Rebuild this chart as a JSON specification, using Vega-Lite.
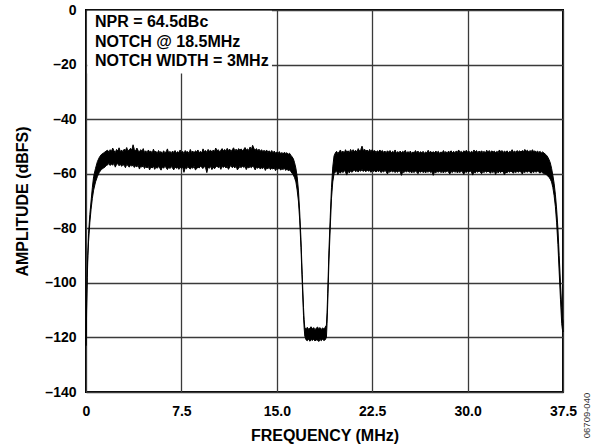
{
  "$schema": "https://vega.github.io/schema/vega-lite/v6.json",
  "autosize": "none",
  "width": 477,
  "height": 382,
  "padding": {"left": 86, "top": 10, "right": 42, "bottom": 54},
  "background": "white",
  "config": {
    "view": {"stroke": "black", "strokeWidth": 2},
    "font": "Liberation Sans",
    "axis": {
      "labelFont": "Liberation Sans", "labelFontWeight": "bold", "labelFontSize": 14, "labelColor": "black", "labelFlush": false,
      "titleFont": "Liberation Sans", "titleFontWeight": "bold", "titleFontSize": 16, "titleColor": "black",
      "gridColor": "#3a3a3a", "gridWidth": 1.3, "gridOpacity": 1, "domain": false, "ticks": false
    }
  },
  "data": {"values": [
    {"f":0.0,"hi":-121,"lo":-123},{"f":0.03,"hi":-113,"lo":-116},{"f":0.06,"hi":-104,"lo":-107},{"f":0.1,"hi":-95,"lo":-98},{"f":0.15,"hi":-88,"lo":-90},{"f":0.2,"hi":-82,"lo":-85},{"f":0.3,"hi":-75,"lo":-78},{"f":0.4,"hi":-70,"lo":-73},{"f":0.5,"hi":-65,"lo":-69},{"f":0.6,"hi":-61,"lo":-66},{"f":0.75,"hi":-58,"lo":-63},{"f":0.9,"hi":-55.5,"lo":-61},{"f":1.05,"hi":-54,"lo":-59.5},{"f":1.2,"hi":-53,"lo":-58.5},{"f":1.35,"hi":-52.5,"lo":-58},{"f":1.5,"hi":-52,"lo":-57.5},{"f":1.6,"hi":-51.6,"lo":-57},
    {"f":1.7,"hi":-51.4,"lo":-56.8},{"f":1.8,"hi":-52.1,"lo":-56.2},{"f":1.9,"hi":-51.2,"lo":-57.0},{"f":2.0,"hi":-51.8,"lo":-56.4},{"f":2.1,"hi":-50.6,"lo":-56.9},{"f":2.2,"hi":-51.6,"lo":-56.1},{"f":2.3,"hi":-52.3,"lo":-57.6},{"f":2.4,"hi":-51.1,"lo":-56.6},{"f":2.5,"hi":-51.7,"lo":-56.3},{"f":2.6,"hi":-50.5,"lo":-57.1},{"f":2.7,"hi":-51.9,"lo":-56.5},{"f":2.8,"hi":-51.3,"lo":-57.3},{"f":2.9,"hi":-52.0,"lo":-56.7},{"f":3.0,"hi":-51.0,"lo":-56.9},{"f":3.1,"hi":-51.5,"lo":-57.8},{"f":3.2,"hi":-50.4,"lo":-56.6},{"f":3.3,"hi":-51.8,"lo":-57.0},{"f":3.4,"hi":-51.2,"lo":-57.6},{"f":3.5,"hi":-50.7,"lo":-56.8},{"f":3.6,"hi":-51.4,"lo":-57.2},{"f":3.7,"hi":-49.4,"lo":-56.9},{"f":3.8,"hi":-51.1,"lo":-57.7},{"f":3.9,"hi":-51.7,"lo":-57.1},{"f":4.0,"hi":-50.6,"lo":-57.5},{"f":4.1,"hi":-51.5,"lo":-56.9},{"f":4.2,"hi":-52.0,"lo":-58.3},{"f":4.3,"hi":-51.2,"lo":-57.2},{"f":4.4,"hi":-51.8,"lo":-57.6},{"f":4.5,"hi":-50.8,"lo":-57.0},{"f":4.6,"hi":-52.2,"lo":-58.1},{"f":4.7,"hi":-51.6,"lo":-57.4},{"f":4.8,"hi":-52.4,"lo":-57.9},{"f":4.9,"hi":-51.3,"lo":-57.3},{"f":5.0,"hi":-52.0,"lo":-58.6},{"f":5.1,"hi":-51.7,"lo":-57.5},{"f":5.2,"hi":-52.5,"lo":-57.9},{"f":5.3,"hi":-51.0,"lo":-57.2},{"f":5.4,"hi":-52.1,"lo":-58.4},{"f":5.5,"hi":-51.8,"lo":-57.6},{"f":5.6,"hi":-52.6,"lo":-58.0},{"f":5.7,"hi":-51.5,"lo":-57.4},{"f":5.8,"hi":-52.2,"lo":-57.9},{"f":5.9,"hi":-51.9,"lo":-58.7},{"f":6.0,"hi":-52.7,"lo":-57.5},{"f":6.1,"hi":-51.6,"lo":-58.0},{"f":6.2,"hi":-52.3,"lo":-57.3},{"f":6.3,"hi":-52.0,"lo":-57.8},{"f":6.4,"hi":-50.9,"lo":-58.5},{"f":6.5,"hi":-52.4,"lo":-57.6},{"f":6.6,"hi":-51.8,"lo":-58.1},{"f":6.7,"hi":-52.6,"lo":-57.4},{"f":6.8,"hi":-51.7,"lo":-57.9},{"f":6.9,"hi":-52.2,"lo":-58.6},{"f":7.0,"hi":-51.5,"lo":-57.5},{"f":7.1,"hi":-52.5,"lo":-58.0},{"f":7.2,"hi":-51.9,"lo":-57.7},{"f":7.3,"hi":-52.3,"lo":-58.4},{"f":7.4,"hi":-51.3,"lo":-57.6},{"f":7.5,"hi":-52.4,"lo":-58.1},{"f":7.6,"hi":-51.8,"lo":-57.5},{"f":7.7,"hi":-52.7,"lo":-59.5},{"f":7.8,"hi":-51.5,"lo":-57.8},{"f":7.9,"hi":-52.1,"lo":-58.2},{"f":8.0,"hi":-51.9,"lo":-57.4},{"f":8.1,"hi":-52.6,"lo":-57.9},{"f":8.2,"hi":-51.1,"lo":-58.3},{"f":8.3,"hi":-52.2,"lo":-57.6},{"f":8.4,"hi":-51.7,"lo":-58.0},{"f":8.5,"hi":-52.5,"lo":-57.3},{"f":8.6,"hi":-51.6,"lo":-58.6},{"f":8.7,"hi":-52.0,"lo":-58.2},{"f":8.8,"hi":-51.3,"lo":-57.5},{"f":8.9,"hi":-52.3,"lo":-57.9},{"f":9.0,"hi":-51.8,"lo":-57.2},{"f":9.1,"hi":-52.4,"lo":-57.7},{"f":9.2,"hi":-50.9,"lo":-58.1},{"f":9.3,"hi":-51.9,"lo":-57.4},{"f":9.4,"hi":-51.5,"lo":-57.8},{"f":9.5,"hi":-52.2,"lo":-59.6},{"f":9.6,"hi":-51.1,"lo":-57.6},{"f":9.7,"hi":-51.8,"lo":-58.0},{"f":9.8,"hi":-51.4,"lo":-57.3},{"f":9.9,"hi":-52.1,"lo":-58.5},{"f":10.0,"hi":-51.3,"lo":-57.5},{"f":10.1,"hi":-51.9,"lo":-58.2},{"f":10.2,"hi":-50.6,"lo":-57.6},{"f":10.3,"hi":-51.6,"lo":-57.1},{"f":10.4,"hi":-51.2,"lo":-57.8},{"f":10.5,"hi":-52.0,"lo":-57.4},{"f":10.6,"hi":-51.4,"lo":-58.4},{"f":10.7,"hi":-50.8,"lo":-57.3},{"f":10.8,"hi":-51.7,"lo":-57.7},{"f":10.9,"hi":-51.1,"lo":-57.2},{"f":11.0,"hi":-51.8,"lo":-57.9},{"f":11.1,"hi":-50.7,"lo":-57.4},{"f":11.2,"hi":-51.5,"lo":-58.4},{"f":11.3,"hi":-51.0,"lo":-57.5},{"f":11.4,"hi":-51.9,"lo":-57.0},{"f":11.5,"hi":-51.2,"lo":-57.8},{"f":11.6,"hi":-50.5,"lo":-57.3},{"f":11.7,"hi":-51.6,"lo":-57.9},{"f":11.8,"hi":-51.0,"lo":-57.1},{"f":11.9,"hi":-51.7,"lo":-58.6},{"f":12.0,"hi":-50.8,"lo":-58.0},{"f":12.1,"hi":-51.4,"lo":-57.4},{"f":12.2,"hi":-50.9,"lo":-57.8},{"f":12.3,"hi":-51.6,"lo":-57.2},{"f":12.4,"hi":-51.1,"lo":-57.7},{"f":12.5,"hi":-50.4,"lo":-57.3},{"f":12.6,"hi":-51.3,"lo":-58.5},{"f":12.7,"hi":-50.9,"lo":-57.5},{"f":12.8,"hi":-51.5,"lo":-57.9},{"f":12.9,"hi":-50.2,"lo":-57.4},{"f":13.0,"hi":-51.2,"lo":-57.8},{"f":13.1,"hi":-49.6,"lo":-57.2},{"f":13.2,"hi":-50.7,"lo":-57.7},{"f":13.3,"hi":-51.4,"lo":-58.6},{"f":13.4,"hi":-50.8,"lo":-57.6},{"f":13.5,"hi":-51.6,"lo":-58.0},{"f":13.6,"hi":-51.0,"lo":-57.5},{"f":13.7,"hi":-51.8,"lo":-58.3},{"f":13.8,"hi":-51.2,"lo":-57.8},{"f":13.9,"hi":-51.9,"lo":-58.1},{"f":14.0,"hi":-51.4,"lo":-57.6},{"f":14.1,"hi":-52.0,"lo":-58.8},{"f":14.2,"hi":-51.3,"lo":-57.9},{"f":14.3,"hi":-52.2,"lo":-58.2},{"f":14.4,"hi":-51.6,"lo":-57.7},{"f":14.5,"hi":-52.3,"lo":-58.5},{"f":14.6,"hi":-51.5,"lo":-58.0},{"f":14.7,"hi":-52.4,"lo":-58.3},{"f":14.8,"hi":-51.7,"lo":-57.8},{"f":14.9,"hi":-52.5,"lo":-58.9},{"f":15.0,"hi":-52.0,"lo":-58.1},{"f":15.1,"hi":-52.6,"lo":-58.4},{"f":15.2,"hi":-51.9,"lo":-57.9},{"f":15.3,"hi":-52.7,"lo":-58.7},{"f":15.4,"hi":-52.2,"lo":-58.2},{"f":15.5,"hi":-52.8,"lo":-58.5},{"f":15.6,"hi":-52.1,"lo":-58.0},{"f":15.7,"hi":-52.6,"lo":-58.8},{"f":15.8,"hi":-52.3,"lo":-58.3},{"f":15.9,"hi":-52.9,"lo":-58.9},{"f":16.0,"hi":-52.5,"lo":-58.6},{"f":16.1,"hi":-53.2,"lo":-59.2},{"f":16.2,"hi":-53.8,"lo":-59.8},
    {"f":16.3,"hi":-54.5,"lo":-60.5},{"f":16.4,"hi":-56,"lo":-61.5},{"f":16.5,"hi":-58,"lo":-63},{"f":16.6,"hi":-61,"lo":-66},{"f":16.7,"hi":-66,"lo":-70},{"f":16.8,"hi":-74,"lo":-77},{"f":16.9,"hi":-84,"lo":-87},{"f":17.0,"hi":-97,"lo":-100},{"f":17.1,"hi":-109,"lo":-112},{"f":17.15,"hi":-113.5,"lo":-116.5},{"f":17.2,"hi":-116.5,"lo":-119.5},
    {"f":17.3,"hi":-116.8,"lo":-120.9},{"f":17.4,"hi":-116.3,"lo":-121.2},{"f":17.5,"hi":-117.0,"lo":-120.6},{"f":17.6,"hi":-116.5,"lo":-121.4},{"f":17.7,"hi":-116.1,"lo":-120.8},{"f":17.8,"hi":-116.9,"lo":-121.1},{"f":17.9,"hi":-116.4,"lo":-120.7},{"f":18.0,"hi":-117.2,"lo":-121.3},{"f":18.1,"hi":-116.6,"lo":-120.9},{"f":18.2,"hi":-116.2,"lo":-121.0},{"f":18.3,"hi":-116.8,"lo":-121.5},{"f":18.4,"hi":-116.4,"lo":-120.8},{"f":18.5,"hi":-117.1,"lo":-121.2},{"f":18.6,"hi":-116.5,"lo":-120.7},{"f":18.7,"hi":-116.9,"lo":-121.1},{"f":18.8,"hi":-116.3,"lo":-120.9},{"f":18.9,"hi":-115.5,"lo":-120.0},
    {"f":18.95,"hi":-111,"lo":-115},{"f":19.0,"hi":-104,"lo":-108},{"f":19.05,"hi":-96,"lo":-100},{"f":19.1,"hi":-88,"lo":-92},{"f":19.2,"hi":-76,"lo":-80},{"f":19.3,"hi":-65,"lo":-69},{"f":19.4,"hi":-57.5,"lo":-63},{"f":19.5,"hi":-53.5,"lo":-60},
    {"f":19.6,"hi":-52.4,"lo":-59.5},{"f":19.7,"hi":-51.8,"lo":-58.9},{"f":19.8,"hi":-52.6,"lo":-60.4},{"f":19.9,"hi":-52.0,"lo":-59.3},{"f":20.0,"hi":-51.3,"lo":-59.8},{"f":20.1,"hi":-52.3,"lo":-59.0},{"f":20.2,"hi":-51.7,"lo":-59.6},{"f":20.3,"hi":-52.5,"lo":-58.8},{"f":20.4,"hi":-51.2,"lo":-59.4},{"f":20.5,"hi":-52.1,"lo":-60.5},{"f":20.6,"hi":-51.6,"lo":-59.1},{"f":20.7,"hi":-52.4,"lo":-59.7},{"f":20.8,"hi":-51.1,"lo":-58.9},{"f":20.9,"hi":-52.0,"lo":-59.5},{"f":21.0,"hi":-51.2,"lo":-59.0},{"f":21.1,"hi":-51.9,"lo":-58.6},{"f":21.2,"hi":-51.4,"lo":-59.3},{"f":21.3,"hi":-52.1,"lo":-58.8},{"f":21.4,"hi":-50.8,"lo":-59.4},{"f":21.5,"hi":-51.7,"lo":-58.7},{"f":21.6,"hi":-51.2,"lo":-59.1},{"f":21.7,"hi":-49.9,"lo":-58.5},{"f":21.8,"hi":-51.5,"lo":-59.2},{"f":21.9,"hi":-51.0,"lo":-58.7},{"f":22.0,"hi":-51.8,"lo":-59.3},{"f":22.1,"hi":-51.3,"lo":-58.6},{"f":22.2,"hi":-52.0,"lo":-59.1},{"f":22.3,"hi":-51.1,"lo":-58.8},{"f":22.4,"hi":-51.9,"lo":-59.5},{"f":22.5,"hi":-51.2,"lo":-58.7},{"f":22.6,"hi":-51.8,"lo":-59.2},{"f":22.7,"hi":-51.5,"lo":-58.9},{"f":22.8,"hi":-52.2,"lo":-59.4},{"f":22.9,"hi":-51.6,"lo":-58.8},{"f":23.0,"hi":-52.0,"lo":-59.3},{"f":23.1,"hi":-51.3,"lo":-58.7},{"f":23.2,"hi":-51.9,"lo":-59.6},{"f":23.3,"hi":-51.5,"lo":-59.0},{"f":23.4,"hi":-52.2,"lo":-59.4},{"f":23.5,"hi":-51.7,"lo":-58.8},{"f":23.6,"hi":-52.3,"lo":-59.3},{"f":23.7,"hi":-51.6,"lo":-60.1},{"f":23.8,"hi":-52.1,"lo":-59.1},{"f":23.9,"hi":-51.5,"lo":-59.5},{"f":24.0,"hi":-52.4,"lo":-58.9},{"f":24.1,"hi":-51.8,"lo":-59.4},{"f":24.2,"hi":-52.2,"lo":-59.0},{"f":24.3,"hi":-51.3,"lo":-59.6},{"f":24.4,"hi":-52.5,"lo":-59.1},{"f":24.5,"hi":-51.9,"lo":-59.5},{"f":24.6,"hi":-52.3,"lo":-58.9},{"f":24.7,"hi":-51.7,"lo":-59.3},{"f":24.8,"hi":-52.4,"lo":-60.6},{"f":24.9,"hi":-51.8,"lo":-59.2},{"f":25.0,"hi":-52.2,"lo":-59.6},{"f":25.1,"hi":-51.4,"lo":-59.0},{"f":25.2,"hi":-52.5,"lo":-59.4},{"f":25.3,"hi":-51.9,"lo":-58.9},{"f":25.4,"hi":-52.3,"lo":-59.5},{"f":25.5,"hi":-51.7,"lo":-59.1},{"f":25.6,"hi":-52.6,"lo":-59.7},{"f":25.7,"hi":-52.0,"lo":-59.2},{"f":25.8,"hi":-52.4,"lo":-59.6},{"f":25.9,"hi":-51.5,"lo":-59.0},{"f":26.0,"hi":-52.3,"lo":-59.4},{"f":26.1,"hi":-51.7,"lo":-60.0},{"f":26.2,"hi":-52.5,"lo":-59.1},{"f":26.3,"hi":-51.9,"lo":-59.5},{"f":26.4,"hi":-52.4,"lo":-59.0},{"f":26.5,"hi":-51.8,"lo":-59.6},{"f":26.6,"hi":-52.6,"lo":-59.2},{"f":26.7,"hi":-52.0,"lo":-59.7},{"f":26.8,"hi":-52.4,"lo":-59.1},{"f":26.9,"hi":-51.4,"lo":-59.5},{"f":27.0,"hi":-52.3,"lo":-59.0},{"f":27.1,"hi":-51.8,"lo":-59.6},{"f":27.2,"hi":-52.5,"lo":-59.2},{"f":27.3,"hi":-51.9,"lo":-60.6},{"f":27.4,"hi":-52.4,"lo":-59.3},{"f":27.5,"hi":-51.7,"lo":-59.7},{"f":27.6,"hi":-52.2,"lo":-59.1},{"f":27.7,"hi":-51.8,"lo":-59.5},{"f":27.8,"hi":-52.6,"lo":-59.0},{"f":27.9,"hi":-52.0,"lo":-59.6},{"f":28.0,"hi":-52.4,"lo":-59.2},{"f":28.1,"hi":-51.5,"lo":-59.7},{"f":28.2,"hi":-52.3,"lo":-59.1},{"f":28.3,"hi":-51.9,"lo":-59.5},{"f":28.4,"hi":-52.5,"lo":-59.0},{"f":28.5,"hi":-51.7,"lo":-59.4},{"f":28.6,"hi":-52.2,"lo":-60.1},{"f":28.7,"hi":-51.6,"lo":-59.2},{"f":28.8,"hi":-52.4,"lo":-59.6},{"f":28.9,"hi":-51.8,"lo":-59.0},{"f":29.0,"hi":-52.3,"lo":-59.5},{"f":29.1,"hi":-51.7,"lo":-59.1},{"f":29.2,"hi":-52.1,"lo":-59.7},{"f":29.3,"hi":-51.3,"lo":-59.2},{"f":29.4,"hi":-52.2,"lo":-59.6},{"f":29.5,"hi":-51.8,"lo":-59.0},{"f":29.6,"hi":-52.4,"lo":-59.4},{"f":29.7,"hi":-51.6,"lo":-60.2},{"f":29.8,"hi":-52.0,"lo":-59.2},{"f":29.9,"hi":-51.4,"lo":-59.6},{"f":30.0,"hi":-52.1,"lo":-59.1},{"f":30.1,"hi":-51.7,"lo":-59.5},{"f":30.2,"hi":-52.3,"lo":-59.0},{"f":30.3,"hi":-51.8,"lo":-59.4},{"f":30.4,"hi":-52.2,"lo":-60.5},{"f":30.5,"hi":-51.3,"lo":-59.3},{"f":30.6,"hi":-52.0,"lo":-59.7},{"f":30.7,"hi":-51.5,"lo":-59.1},{"f":30.8,"hi":-52.3,"lo":-59.5},{"f":30.9,"hi":-51.7,"lo":-59.0},{"f":31.0,"hi":-52.1,"lo":-59.4},{"f":31.1,"hi":-51.6,"lo":-60.0},{"f":31.2,"hi":-52.2,"lo":-59.2},{"f":31.3,"hi":-51.8,"lo":-59.6},{"f":31.4,"hi":-52.4,"lo":-59.1},{"f":31.5,"hi":-51.4,"lo":-59.5},{"f":31.6,"hi":-52.0,"lo":-59.0},{"f":31.7,"hi":-51.5,"lo":-59.4},{"f":31.8,"hi":-52.2,"lo":-59.8},{"f":31.9,"hi":-51.6,"lo":-59.2},{"f":32.0,"hi":-52.1,"lo":-59.6},{"f":32.1,"hi":-51.7,"lo":-59.0},{"f":32.2,"hi":-52.3,"lo":-60.3},{"f":32.3,"hi":-51.8,"lo":-59.1},{"f":32.4,"hi":-52.2,"lo":-59.7},{"f":32.5,"hi":-51.3,"lo":-59.2},{"f":32.6,"hi":-52.0,"lo":-59.6},{"f":32.7,"hi":-51.5,"lo":-59.0},{"f":32.8,"hi":-52.2,"lo":-59.4},{"f":32.9,"hi":-51.7,"lo":-60.4},{"f":33.0,"hi":-52.1,"lo":-59.3},{"f":33.1,"hi":-51.6,"lo":-59.7},{"f":33.2,"hi":-52.3,"lo":-59.1},{"f":33.3,"hi":-51.8,"lo":-59.5},{"f":33.4,"hi":-52.0,"lo":-59.0},{"f":33.5,"hi":-51.2,"lo":-59.4},{"f":33.6,"hi":-52.1,"lo":-59.8},{"f":33.7,"hi":-51.7,"lo":-59.2},{"f":33.8,"hi":-52.2,"lo":-59.6},{"f":33.9,"hi":-51.5,"lo":-59.1},{"f":34.0,"hi":-52.0,"lo":-59.5},{"f":34.1,"hi":-51.6,"lo":-59.0},{"f":34.2,"hi":-52.1,"lo":-59.4},{"f":34.3,"hi":-51.5,"lo":-60.1},{"f":34.4,"hi":-51.9,"lo":-59.2},{"f":34.5,"hi":-51.1,"lo":-59.6},{"f":34.6,"hi":-51.8,"lo":-59.1},{"f":34.7,"hi":-51.4,"lo":-59.5},{"f":34.8,"hi":-52.0,"lo":-59.0},{"f":34.9,"hi":-51.5,"lo":-59.4},{"f":35.0,"hi":-51.9,"lo":-59.8},{"f":35.1,"hi":-51.2,"lo":-59.2},{"f":35.2,"hi":-52.0,"lo":-59.6},{"f":35.3,"hi":-51.6,"lo":-59.1},{"f":35.4,"hi":-52.1,"lo":-59.5},{"f":35.5,"hi":-51.7,"lo":-59.0},{"f":35.6,"hi":-52.2,"lo":-59.4},{"f":35.7,"hi":-51.8,"lo":-59.8},{"f":35.8,"hi":-52.4,"lo":-59.3},{"f":35.9,"hi":-52.0,"lo":-59.7},{"f":36.0,"hi":-52.4,"lo":-59.9},
    {"f":36.1,"hi":-52.8,"lo":-60.1},{"f":36.2,"hi":-53.2,"lo":-60.4},{"f":36.3,"hi":-53.9,"lo":-60.8},{"f":36.4,"hi":-54.8,"lo":-61.3},{"f":36.5,"hi":-56,"lo":-62},{"f":36.6,"hi":-58,"lo":-63},{"f":36.7,"hi":-60.5,"lo":-65},{"f":36.8,"hi":-63.5,"lo":-68},{"f":36.9,"hi":-67.5,"lo":-72},{"f":37.0,"hi":-73,"lo":-78},{"f":37.1,"hi":-80,"lo":-86},{"f":37.2,"hi":-90,"lo":-96},{"f":37.3,"hi":-100,"lo":-106},{"f":37.4,"hi":-109,"lo":-115},{"f":37.45,"hi":-113,"lo":-117},{"f":37.5,"hi":-114,"lo":-118}
  ]},
  "resolve": {"scale": {"y": "independent"}},
  "layer": [
    {
      "mark": {"type": "area", "color": "black", "stroke": "black", "strokeWidth": 1, "fillOpacity": 1},
      "encoding": {
        "x": {"field": "f", "type": "quantitative", "scale": {"domain": [0, 37.5], "nice": false, "zero": false},
          "axis": {"values": [0, 7.5, 15, 22.5, 30, 37.5], "grid": true, "labelExpr": "datum.value == 0 ? '0' : format(datum.value, '.1f')", "labelPadding": 12, "labelBaseline": "top", "title": "FREQUENCY (MHz)", "titleY": 43, "titleBaseline": "middle"}},
        "y": {"field": "hi", "type": "quantitative", "scale": {"domain": [-140, 0], "nice": false},
          "axis": {"values": [-140, -120, -100, -80, -60, -40, -20, 0], "grid": true, "labelExpr": "datum.value < 0 ? '\u2013' + abs(datum.value) : '' + datum.value", "labelPadding": 10, "title": "AMPLITUDE (dBFS)", "titleX": -64, "titleY": 191, "titleAngle": -90, "titleAlign": "center", "titleBaseline": "middle"}},
        "y2": {"field": "lo"}
      }
    },
    {
      "data": {"values": [{}]},
      "mark": {"type": "rect", "fill": "white", "stroke": null},
      "encoding": {
        "x": {"datum": 0.1, "type": "quantitative"},
        "x2": {"datum": 14.62},
        "y": {"datum": -0.3, "type": "quantitative", "scale": {"domain": [-140, 0], "nice": false},
          "axis": {"orient": "right", "labels": false, "grid": false, "title": "06709-040", "titleFont": "Liberation Sans", "titleFontWeight": "normal", "titleFontSize": 9.5, "titleColor": "#333333", "titleAngle": -90, "titleX": 23, "titleY": 405, "titleAlign": "center", "titleBaseline": "middle"}},
        "y2": {"datum": -23.3}
      }
    },
    {
      "data": {"values": [{"label": ["NPR = 64.5dBc", "NOTCH @ 18.5MHz", "NOTCH WIDTH = 3MHz"]}]},
      "mark": {"type": "text", "align": "left", "baseline": "top", "font": "Liberation Sans", "fontWeight": "bold", "fontSize": 16, "lineHeight": 19.5, "color": "black"},
      "encoding": {
        "x": {"datum": 0.7, "type": "quantitative"},
        "y": {"datum": -1.5, "type": "quantitative", "scale": {"domain": [-140, 0], "nice": false}, "axis": null},
        "text": {"field": "label"}
      }
    }
  ]
}
